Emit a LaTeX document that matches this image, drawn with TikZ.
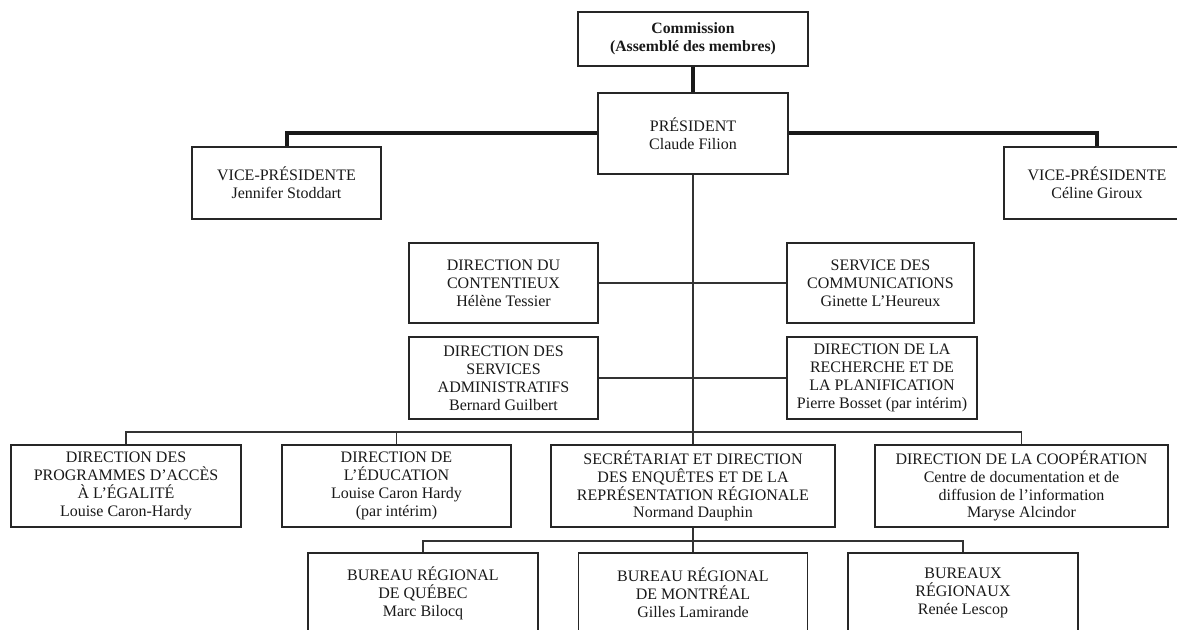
\documentclass[tikz,border=0pt]{standalone}
\usepackage{fontspec}
\setmainfont{Liberation Serif}
\usepackage{tikz}

\tikzset{
  poste/.style 2 args={draw=black!85, line width=0.8pt, text=black!90,
    minimum width=#1*0.75pt, minimum height=#2*0.75pt, inner sep=0pt,
    align=center, font=\fontsize{12}{13.4}\selectfont},
  lien/.style={draw=black!80, line width=0.8pt},
  lienfort/.style={draw=black!90, line width=3pt}
}

\begin{document}
\begin{tikzpicture}[x=0.75pt, y=-0.75pt]
            \clip (0,0) rectangle (1177,630);
            \fill[white] (0,0) rectangle (1177,630);
            \node[poste={230}{54}, font=\fontsize{11.8}{13.2}\selectfont\bfseries] (commission) at (693,39) {Commission\\(Assemblé des membres)};
            \node[poste={190}{81}] (president) at (693,133.5) {PRÉSIDENT\\Claude Filion};
            \node[poste={189}{72}] (vpgauche) at (286.5,183) {VICE-PRÉSIDENTE\\Jennifer Stoddart};
            \node[poste={186}{72}] (vpdroite) at (1097,183) {VICE-PRÉSIDENTE\\Céline Giroux};
            \node[poste={189}{80}] (contentieux) at (503.5,283) {DIRECTION DU\\CONTENTIEUX\\Hélène Tessier};
            \node[poste={187}{80}] (communications) at (880.5,283) {SERVICE DES\\COMMUNICATIONS\\Ginette L’Heureux};
            \node[poste={189}{82}] (administratifs) at (503.5,378) {DIRECTION DES\\SERVICES\\ADMINISTRATIFS\\Bernard Guilbert};
            \node[poste={190}{82}] (recherche) at (882,378) {DIRECTION DE LA\\RECHERCHE ET DE\\LA PLANIFICATION\\Pierre Bosset (par intérim)};
            \node[poste={230}{82}] (programmes) at (126,486) {DIRECTION DES\\PROGRAMMES D’ACCÈS\\À L’ÉGALITÉ\\Louise Caron-Hardy};
            \node[poste={229}{82}] (education) at (396.5,486) {DIRECTION DE\\L’ÉDUCATION\\Louise Caron Hardy\\(par intérim)};
            \node[poste={284}{82}] (secretariat) at (693,486) {SECRÉTARIAT ET DIRECTION\\DES ENQUÊTES ET DE LA\\REPRÉSENTATION RÉGIONALE\\Normand Dauphin};
            \node[poste={293}{82}] (cooperation) at (1021.5,486) {DIRECTION DE LA COOPÉRATION\\Centre de documentation et de\\diffusion de l’information\\Maryse Alcindor};
            \node[poste={230}{80}] (quebec) at (423,593) {BUREAU RÉGIONAL\\DE QUÉBEC\\Marc Bilocq};
            \node[poste={229}{80}] (montreal) at (693,593) {BUREAU RÉGIONAL\\DE MONTRÉAL\\Gilles Lamirande};
            \node[poste={230}{80}] (bureaux) at (963,593) {BUREAUX\\RÉGIONAUX\\Renée Lescop};
            \coordinate (bus1) at (693,432);
            \coordinate (bus2) at (693,541);
            \draw[lienfort] (commission.south) -- (president.north);
            \draw[lienfort] (president.west) -| (vpgauche.north);
            \draw[lienfort] (president.east) -| (vpdroite.north);
            \draw[lien] (president.south) -- (secretariat.north);
            \draw[lien] (contentieux.east) -- (communications.west);
            \draw[lien] (administratifs.east) -- (recherche.west);
            \draw[lien] (programmes.north) |- (bus1) -| (cooperation.north);
            \draw[lien] (education.north) |- (bus1);
            \draw[lien] (secretariat.south) -- (montreal.north);
            \draw[lien] (quebec.north) |- (bus2) -| (bureaux.north);
        \end{tikzpicture}
\end{document}
